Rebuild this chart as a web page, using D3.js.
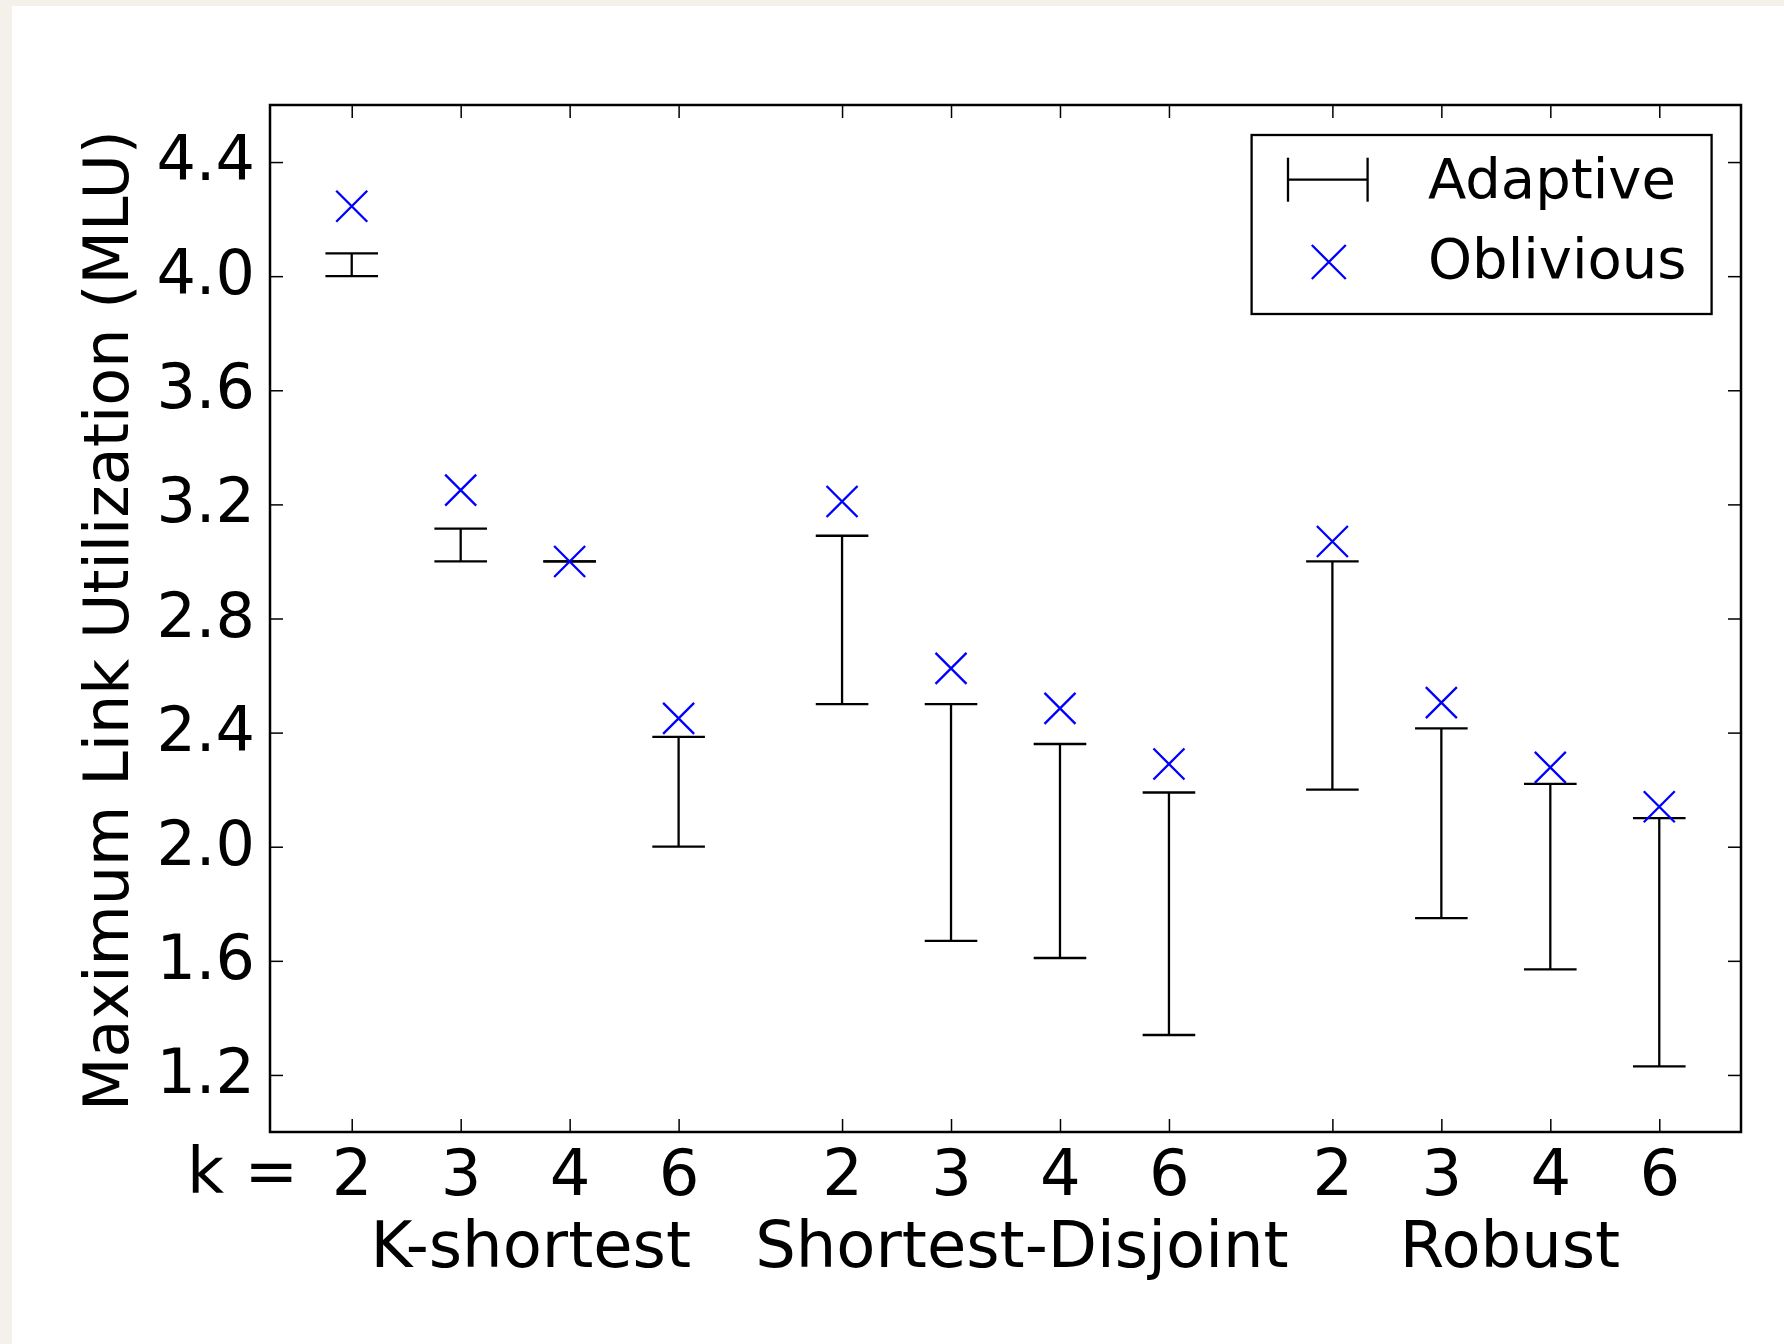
<!DOCTYPE html>
<html>
<head>
<meta charset="utf-8">
<script src="https://cdn.jsdelivr.net/npm/d3@7"></script>
<style>
  body { margin: 0; background: #f3f1ea; }
  text { font-family: "DejaVu Sans", sans-serif; fill: #000; }
</style>
</head>
<body>
<div id="chart"></div>
<script>
// values
var groups = ["K-shortest", "Shortest-Disjoint", "Robust"];
var kValues = [2, 3, 4, 6];
var adaptiveLow  = [4.00, 3.00, 3.00, 2.00, 2.50, 1.67, 1.61, 1.34, 2.20, 1.75, 1.57, 1.23];
var adaptiveHigh = [4.08, 3.115, 3.00, 2.385, 3.09, 2.50, 2.36, 2.19, 3.00, 2.415, 2.22, 2.10];
var oblivious    = [4.245, 3.25, 3.00, 2.45, 3.21, 2.625, 2.485, 2.29, 3.07, 2.505, 2.278, 2.14];
var yTicks = [1.2, 1.6, 2.0, 2.4, 2.8, 3.2, 3.6, 4.0, 4.4];

var W = 1784, H = 1344;
var margin = {top: 105, right: 43, bottom: 212, left: 270};
var w = W - margin.left - margin.right;
var h = H - margin.top - margin.bottom;

// one row per (group, k); groups are spaced by an extra half slot
var data = [];
groups.forEach(function(g, gi) {
  kValues.forEach(function(k, ki) {
    var idx = gi * kValues.length + ki;
    data.push({group: g, k: k, pos: gi * 4.5 + ki,
               low: adaptiveLow[idx], high: adaptiveHigh[idx], obl: oblivious[idx]});
  });
});

var root = d3.select("#chart").append("svg")
  .attr("width", W)
  .attr("height", H);

root.append("rect")
  .attr("x", 12).attr("y", 6)
  .attr("width", W - 12).attr("height", H - 6)
  .attr("fill", "#fff");

var svg = root.append("g")
  .attr("transform", "translate(" + margin.left + "," + margin.top + ")");

var x = d3.scaleLinear().domain([-0.75, 12.75]).range([0, w]);
var y = d3.scaleLinear().domain([1.0, 4.6]).range([h, 0]);

var tickLen = 13;
var positions = data.map(function(d) { return d.pos; });

// axes, ticks pointing inward on all four sides
var xAxis = d3.axisBottom(x)
  .tickValues(positions)
  .tickFormat(function(p, i) { return data[i].k; })
  .tickSizeInner(-tickLen).tickSizeOuter(0);
var xAxisTop = d3.axisTop(x)
  .tickValues(positions).tickFormat("")
  .tickSizeInner(-tickLen).tickSizeOuter(0);
var yAxis = d3.axisLeft(y)
  .tickValues(yTicks)
  .tickFormat(d3.format(".1f"))
  .tickSizeInner(-tickLen).tickSizeOuter(0);
var yAxisRight = d3.axisRight(y)
  .tickValues(yTicks).tickFormat("")
  .tickSizeInner(-tickLen).tickSizeOuter(0);

var gx = svg.append("g")
  .attr("transform", "translate(0," + h + ")")
  .call(xAxis);
svg.append("g").call(xAxisTop);
var gy = svg.append("g").call(yAxis);
svg.append("g")
  .attr("transform", "translate(" + w + ",0)")
  .call(yAxisRight);

svg.selectAll(".domain").remove();
svg.selectAll(".tick line").attr("stroke", "#000").attr("stroke-width", 1.5);

gx.selectAll("text")
  .attr("y", 63).attr("dy", null)
  .attr("font-size", 64)
  .attr("font-family", "DejaVu Sans");
gy.selectAll("text")
  .attr("x", -15).attr("y", 17.5).attr("dy", null)
  .attr("font-size", 62)
  .attr("font-family", "DejaVu Sans");

// frame
svg.append("rect")
  .attr("width", w).attr("height", h)
  .attr("fill", "none")
  .attr("stroke", "#000")
  .attr("stroke-width", 2.5);

// adaptive error bars
var cap = 26.3;
var bars = svg.selectAll(".bar")
  .data(data)
  .enter()
  .append("g")
  .attr("class", "bar")
  .attr("stroke", "#000")
  .attr("stroke-width", 2.3);

bars.append("line")
  .attr("x1", function(d) { return x(d.pos); })
  .attr("x2", function(d) { return x(d.pos); })
  .attr("y1", function(d) { return y(d.low); })
  .attr("y2", function(d) { return y(d.high); });
bars.append("line")
  .attr("x1", function(d) { return x(d.pos) - cap; })
  .attr("x2", function(d) { return x(d.pos) + cap; })
  .attr("y1", function(d) { return y(d.low); })
  .attr("y2", function(d) { return y(d.low); });
bars.append("line")
  .attr("x1", function(d) { return x(d.pos) - cap; })
  .attr("x2", function(d) { return x(d.pos) + cap; })
  .attr("y1", function(d) { return y(d.high); })
  .attr("y2", function(d) { return y(d.high); });

// oblivious markers
function cross(cx, cy, r) {
  return "M" + (cx - r) + "," + (cy - r) + "L" + (cx + r) + "," + (cy + r) +
         "M" + (cx - r) + "," + (cy + r) + "L" + (cx + r) + "," + (cy - r);
}

svg.selectAll(".obl")
  .data(data)
  .enter()
  .append("path")
  .attr("class", "obl")
  .attr("d", function(d) { return cross(x(d.pos), y(d.obl), 15.5); })
  .attr("stroke", "#0000ff")
  .attr("stroke-width", 2.3)
  .attr("fill", "none");

// labels
root.append("text")
  .attr("transform", "translate(128," + (margin.top + h / 2 + 2) + ") rotate(-90)")
  .style("text-anchor", "middle")
  .attr("font-size", 62)
  .text("Maximum Link Utilization (MLU)");

root.append("text")
  .attr("x", 187)
  .attr("y", 1193)
  .attr("font-size", 64)
  .text("k =");

var groupLabelPos = [1.643, 6.15, 10.63];
svg.selectAll(".glabel")
  .data(groups)
  .enter()
  .append("text")
  .attr("class", "glabel")
  .attr("x", function(d, i) { return x(groupLabelPos[i]); })
  .attr("y", h + 135)
  .style("text-anchor", "middle")
  .attr("font-size", 64)
  .text(function(d) { return d; });

// legend
var legend = root.append("g");
legend.append("rect")
  .attr("x", 1251.6).attr("y", 135)
  .attr("width", 460).attr("height", 179)
  .attr("fill", "#fff")
  .attr("stroke", "#000")
  .attr("stroke-width", 2.3);

var lg = legend.append("g").attr("stroke", "#000").attr("stroke-width", 2.3);
lg.append("line").attr("x1", 1288).attr("x2", 1367.6).attr("y1", 179.7).attr("y2", 179.7);
lg.append("line").attr("x1", 1288).attr("x2", 1288).attr("y1", 157.7).attr("y2", 201.7);
lg.append("line").attr("x1", 1367.6).attr("x2", 1367.6).attr("y1", 157.7).attr("y2", 201.7);

legend.append("path")
  .attr("d", cross(1328.8, 262, 17))
  .attr("stroke", "#0000ff")
  .attr("stroke-width", 2.3)
  .attr("fill", "none");

legend.append("text")
  .attr("x", 1428).attr("y", 198)
  .attr("font-size", 56)
  .text("Adaptive");
legend.append("text")
  .attr("x", 1428).attr("y", 277.5)
  .attr("font-size", 56)
  .text("Oblivious");
</script>
</body>
</html>
